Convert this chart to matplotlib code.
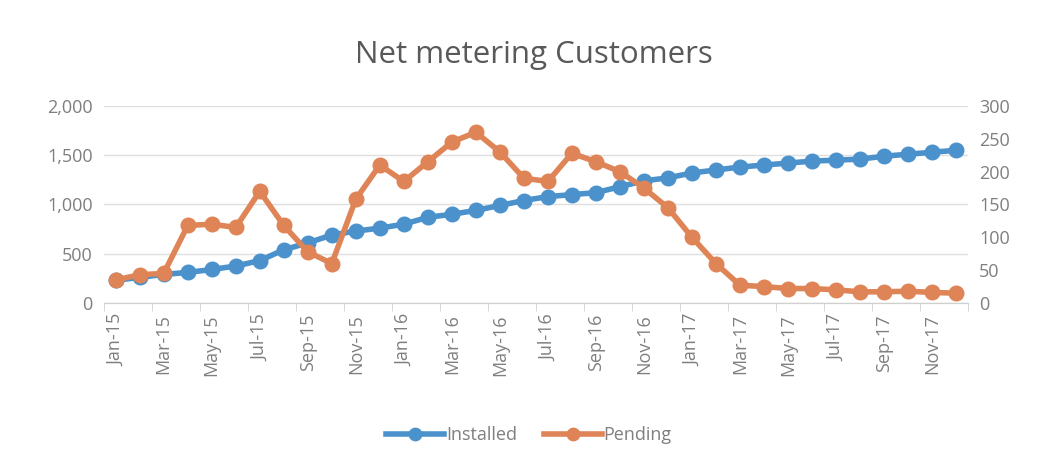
import numpy as np
import matplotlib.pyplot as plt

months = ['Jan', 'Feb', 'Mar', 'Apr', 'May', 'Jun', 'Jul', 'Aug', 'Sep', 'Oct', 'Nov', 'Dec']
labels = [m + '-' + y for y in ['15', '16', '17'] for m in months]

installed = [230, 260, 290, 310, 340, 375, 430, 540, 610, 690, 730, 760,
             800, 870, 900, 940, 990, 1040, 1080, 1100, 1120, 1180, 1240, 1270,
             1320, 1350, 1380, 1400, 1420, 1440, 1450, 1460, 1490, 1510, 1530, 1550]
pending = [35, 43, 45, 118, 120, 115, 170, 118, 78, 60, 158, 210,
           185, 215, 245, 260, 230, 190, 185, 228, 215, 200, 175, 145,
           100, 60, 27, 25, 22, 22, 20, 17, 17, 18, 16, 15]

plt.rcParams['font.family'] = ['Open Sans', 'DejaVu Sans']
grey = '#7f7f7f'
blue = '#4b92cc'
orange = '#df8456'

fig = plt.figure(figsize=(10.58, 4.68), dpi=100)
ax = fig.add_axes([0.098, 0.3526, 0.817, 0.421])
ax2 = ax.twinx()

x = np.arange(len(labels))
l1, = ax.plot(x, installed, color=blue, lw=4, marker='o', ms=10.5, label='Installed', zorder=3)
l2, = ax2.plot(x, pending, color=orange, lw=4, marker='o', ms=10.5, label='Pending', zorder=3)

ax.set_ylim(0, 2000)
ax.set_yticks(range(0, 2001, 500))
ax.set_yticklabels([f'{v:,}' for v in range(0, 2001, 500)])
ax2.set_ylim(0, 300)
ax2.set_yticks(range(0, 301, 50))
ax.set_xlim(-0.5, len(labels) - 0.5)
ax.set_xticks(x[::2])
ax.set_xticklabels(labels[::2], rotation=90)
ax.set_xticks(np.arange(-0.5, len(labels), 2), minor=True)
ax.tick_params(axis='x', which='major', length=0, pad=8, labelsize=13, labelcolor=grey)
ax.tick_params(axis='x', which='minor', length=6, color='#d0d0d0')
ax.tick_params(axis='y', length=0, labelsize=13, labelcolor=grey, pad=8)
ax2.tick_params(axis='y', length=0, labelsize=13, labelcolor=grey, pad=8)

ax.grid(axis='y', color='#e0e0e0', lw=1)
ax.set_axisbelow(True)
for a in (ax, ax2):
    for s in ['top', 'left', 'right']:
        a.spines[s].set_visible(False)
    a.spines['bottom'].set_color('#d0d0d0')

fig.text(0.505, 0.882, 'Net metering Customers', ha='center', va='center',
         fontsize=22.5, color='#595959')
leg = fig.legend(handles=[l1, l2], loc='center', bbox_to_anchor=(0.5, 0.07), ncol=2,
                 frameon=False, fontsize=13, labelcolor=grey, handlelength=3.2,
                 handletextpad=0.1, columnspacing=1.5, markerscale=0.85)

fig.savefig('out.png', dpi=100)
